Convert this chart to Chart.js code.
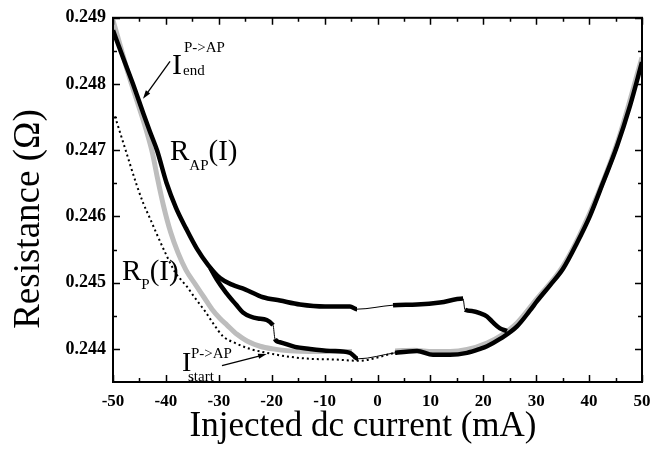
<!DOCTYPE html>
<html>
<head>
<meta charset="utf-8">
<script src="https://cdn.jsdelivr.net/npm/chart.js@4.4.0/dist/chart.umd.min.js"></script>
<style>
  html, body { margin: 0; padding: 0; background: #fff; }
  #wrap { width: 669px; height: 457px; }
</style>
</head>
<body>
<div id="wrap"><canvas id="myChart"></canvas></div>
<script>
// values: current in mA, resistance in Ohm

// R_AP(I), black, upper branch of the loop
const apCurrent = [-50, -48.11, -46.22, -44.33, -43.01, -41.68, -39.89, -38.09, -36.20, -34.12,
  -32.04, -29.77, -27.50, -25.05, -21.64, -18.43, -14.65, -9.92, -5.20, -3.88,
  2.93, 7.47, 11.81, 16.16, 16.54, 18.05, 19.37, 20.70, 21.83, 23.16, 24.48];
const apResist = [0.24881, 0.24840, 0.24800, 0.24757, 0.24728, 0.24700, 0.24651, 0.24613, 0.24582, 0.24551,
  0.24527, 0.24507, 0.24497, 0.24490, 0.24478, 0.24473, 0.24467, 0.24464, 0.24464, 0.24460,
  0.24466, 0.24467, 0.24470, 0.24476, 0.24459, 0.24457, 0.24454, 0.24449, 0.24440, 0.24431, 0.24427];

// black, lower branch of the loop and the right hand side
const lowCurrent = [-31.60, -30.40, -28.64, -26.75, -25.43, -22.59, -19.75, -19.38, -18.43, -15.60,
  -12.76, -8.98, -5.20, -3.69, 3.31, 7.47, 10.49, 13.71, 16.92, 19.38,
  20.70, 23.16, 26.37, 28.83, 30.15, 32.61, 35.07, 37.71, 40.17, 42.63, 45.27, 47.73, 50];
const lowResist = [0.24522, 0.24505, 0.24485, 0.24467, 0.24455, 0.24446, 0.24436, 0.24415, 0.24410, 0.24403,
  0.24400, 0.24397, 0.24394, 0.24385, 0.24394, 0.24397, 0.24391, 0.24391, 0.24394, 0.24400,
  0.24404, 0.24415, 0.24434, 0.24458, 0.24472, 0.24496, 0.24521, 0.24560, 0.24601, 0.24651, 0.24706, 0.24767, 0.24833];

// R_P(I), light grey
const pCurrent = [-50, -48.60, -47.10, -45.40, -43.70, -42.55, -41.60, -40.45, -39.10, -37.70,
  -36.20, -34.40, -32.80, -31.29, -29.77, -28.45, -26.56, -24.67, -22.21, -19.75,
  -16.54, -12.76, -8.98, -4.82, 3.31, 6.90, 10.49, 13.71, 16.92, 20.70, 23.50, 26.37, 30.15, 35.07, 40.17, 45.27, 50];
const pResist = [0.24896, 0.24857, 0.24815, 0.24773, 0.24730, 0.24696, 0.24658, 0.24616, 0.24576, 0.24545,
  0.24519, 0.24497, 0.24478, 0.24460, 0.24446, 0.24436, 0.24422, 0.24412, 0.24404, 0.24400,
  0.24397, 0.24396, 0.24396, 0.24396, 0.24397, 0.24398, 0.24396, 0.24396, 0.24399, 0.24409, 0.24421, 0.24439, 0.24476, 0.24525, 0.24606, 0.24710, 0.24840];

// dotted curve
const dotCurrent = [-49.62, -47.73, -45.46, -44.33, -43.01, -41.87, -40.17, -38.28, -37.33, -36.01,
  -34.69, -33.55, -32.61, -31.10, -29.21, -26.94, -24.10, -20.89, -16.54, -12.76, -8.03, -3.69, 3.31];
const dotResist = [0.24751, 0.24703, 0.24646, 0.24621, 0.24597, 0.24576, 0.24546, 0.24516, 0.24506, 0.24494,
  0.24479, 0.24467, 0.24457, 0.24439, 0.24419, 0.24409, 0.24400, 0.24394, 0.24388, 0.24385, 0.24384, 0.24382, 0.24394];

const xTicks = [-50, -40, -30, -20, -10, 0, 10, 20, 30, 40, 50];
const yTicks = [0.244, 0.245, 0.246, 0.247, 0.248, 0.249];

const pts = (xs, ys) => xs.map((x, i) => ({ x: x, y: ys[i] }));

// jumps in the sweep are drawn as thin connecting lines
function isJump(c) {
  const dx = Math.abs(c.p1.parsed.x - c.p0.parsed.x);
  const dy = Math.abs(c.p1.parsed.y - c.p0.parsed.y);
  return dx > 6.5 || dy / dx > 0.0004;
}

const serif = "'Liberation Serif', 'Times New Roman', serif";
Chart.defaults.font.family = serif;
Chart.defaults.color = '#000';

// small helper for text like R_AP(I), I^{P->AP}_end
function drawRich(ctx, x, y, parts) {
  let cx = x;
  parts.forEach(p => {
    ctx.font = p.size + 'px ' + serif;
    const px = p.x !== undefined ? x + p.x : cx;
    ctx.fillText(p.t, px, y + (p.dy || 0));
    if (p.x === undefined) cx = px + ctx.measureText(p.t).width;
  });
}

function arrow(ctx, x0, y0, x1, y1) {
  const ang = Math.atan2(y1 - y0, x1 - x0);
  ctx.beginPath();
  ctx.moveTo(x0, y0);
  ctx.lineTo(x1 - 5 * Math.cos(ang), y1 - 5 * Math.sin(ang));
  ctx.stroke();
  ctx.beginPath();
  ctx.moveTo(x1, y1);
  ctx.lineTo(x1 - 9 * Math.cos(ang - 0.3), y1 - 9 * Math.sin(ang - 0.3));
  ctx.lineTo(x1 - 9 * Math.cos(ang + 0.3), y1 - 9 * Math.sin(ang + 0.3));
  ctx.closePath();
  ctx.fill();
}

// box round the plot, ticks pointing inwards on all four sides, axis titles, labels
const framePlugin = {
  id: 'frame',
  afterDraw(chart) {
    const { ctx, chartArea: a, scales: { x, y } } = chart;
    ctx.save();
    ctx.strokeStyle = '#000';
    ctx.fillStyle = '#000';
    ctx.lineWidth = 1.5;
    ctx.beginPath();
    for (let v = -50; v <= 50; v += 5) {
      const px = Math.round(x.getPixelForValue(v)) + 0.5;
      const len = v % 10 === 0 ? 7 : 4;
      ctx.moveTo(px, a.bottom); ctx.lineTo(px, a.bottom - len);
      ctx.moveTo(px, a.top); ctx.lineTo(px, a.top + len);
    }
    for (let k = 0; k <= 10; k++) {
      const v = 0.244 + k * 0.0005;
      const py = Math.round(y.getPixelForValue(v)) + 0.5;
      const len = k % 2 === 0 ? 7 : 4;
      ctx.moveTo(a.left, py); ctx.lineTo(a.left + len, py);
      ctx.moveTo(a.right, py); ctx.lineTo(a.right - len, py);
    }
    ctx.stroke();
    ctx.lineWidth = 2;
    ctx.strokeRect(a.left, a.top, a.right - a.left, a.bottom - a.top);

    // axis titles
    ctx.textAlign = 'center';
    ctx.textBaseline = 'alphabetic';
    ctx.font = '35px ' + serif;
    ctx.fillText('Injected dc current (mA)', 363, 436);
    ctx.save();
    ctx.font = '37px ' + serif;
    ctx.translate(39, 219);
    ctx.rotate(-Math.PI / 2);
    ctx.fillText('Resistance (\u03A9)', 0, 0);
    ctx.restore();

    // annotations, anchored in data units
    ctx.textAlign = 'left';
    const X = v => x.getPixelForValue(v), Y = v => y.getPixelForValue(v);
    drawRich(ctx, X(-38.85), Y(0.248149), [
      { t: 'I', size: 30 },
      { t: 'P->AP', size: 15, x: 12, dy: -22 },
      { t: 'end', size: 15, x: 11, dy: 1 }
    ]);
    drawRich(ctx, X(-39.22), Y(0.246851), [
      { t: 'R', size: 29 },
      { t: 'AP', size: 15, dy: 10 },
      { t: '(I)', size: 29 }
    ]);
    drawRich(ctx, X(-48.30), Y(0.245045), [
      { t: 'R', size: 29 },
      { t: 'P', size: 15, dy: 9 },
      { t: '(I)', size: 29 }
    ]);
    drawRich(ctx, X(-36.96), Y(0.243672), [
      { t: 'I', size: 28 },
      { t: 'P->AP', size: 15, x: 9, dy: -13 },
      { t: 'start', size: 15, x: 6, dy: 10 }
    ]);
    ctx.lineWidth = 1.3;
    arrow(ctx, X(-39.22), Y(0.248343), X(-44.33), Y(0.247776));
    arrow(ctx, X(-29.40), Y(0.243746), X(-20.94), Y(0.243921));
    ctx.restore();
  }
};

const config = {
  type: 'scatter',
  data: {
    datasets: [
      {
        label: 'R_AP(I)',
        data: pts(apCurrent, apResist),
        showLine: true,
        borderColor: '#000',
        borderWidth: 4.5,
        pointRadius: 0,
        cubicInterpolationMode: 'monotone',
        segment: { borderWidth: c => isJump(c) ? 1 : 4.5 }
      },
      {
        label: 'lower branch',
        data: pts(lowCurrent, lowResist),
        showLine: true,
        borderColor: '#000',
        borderWidth: 4.5,
        pointRadius: 0,
        cubicInterpolationMode: 'monotone',
        segment: { borderWidth: c => isJump(c) ? 1 : 4.5 }
      },
      {
        label: 'dotted',
        data: pts(dotCurrent, dotResist),
        showLine: true,
        borderColor: '#000',
        borderWidth: 2,
        borderDash: [2, 3],
        pointRadius: 0,
        cubicInterpolationMode: 'monotone'
      },
      {
        label: 'R_P(I)',
        data: pts(pCurrent, pResist),
        showLine: true,
        borderColor: '#bdbdbd',
        borderWidth: 5,
        pointRadius: 0,
        cubicInterpolationMode: 'monotone',
        segment: { borderColor: c => Math.abs(c.p1.parsed.x - c.p0.parsed.x) > 7.5 ? 'rgba(0,0,0,0)' : '#bdbdbd' }
      }
    ]
  },
  options: {
    responsive: true,
    maintainAspectRatio: false,
    animation: false,
    layout: { padding: { left: 0, right: 27, top: 13, bottom: 0 } },
    scales: {
      x: {
        type: 'linear',
        min: -50,
        max: 50,
        grid: { display: false, drawTicks: false },
        border: { display: false },
        ticks: { font: { size: 17, weight: 'bold' }, color: '#000', padding: 9 },
        afterBuildTicks: s => { s.ticks = xTicks.map(v => ({ value: v })); },
        afterFit: s => { s.height = 75; }
      },
      y: {
        type: 'linear',
        min: 0.2435,
        max: 0.249,
        grid: { display: false, drawTicks: false },
        border: { display: false },
        ticks: {
          font: { size: 18, weight: 'bold' },
          color: '#000',
          padding: 7,
          callback: v => v.toFixed(3)
        },
        afterBuildTicks: s => { s.ticks = yTicks.map(v => ({ value: v })); },
        afterFit: s => { s.width = 113; }
      }
    },
    plugins: {
      legend: { display: false },
      tooltip: { enabled: false },
      title: { display: false }
    }
  },
  plugins: [framePlugin]
};

const myChart = new Chart(document.getElementById('myChart'), config);
</script>
</body>
</html>
